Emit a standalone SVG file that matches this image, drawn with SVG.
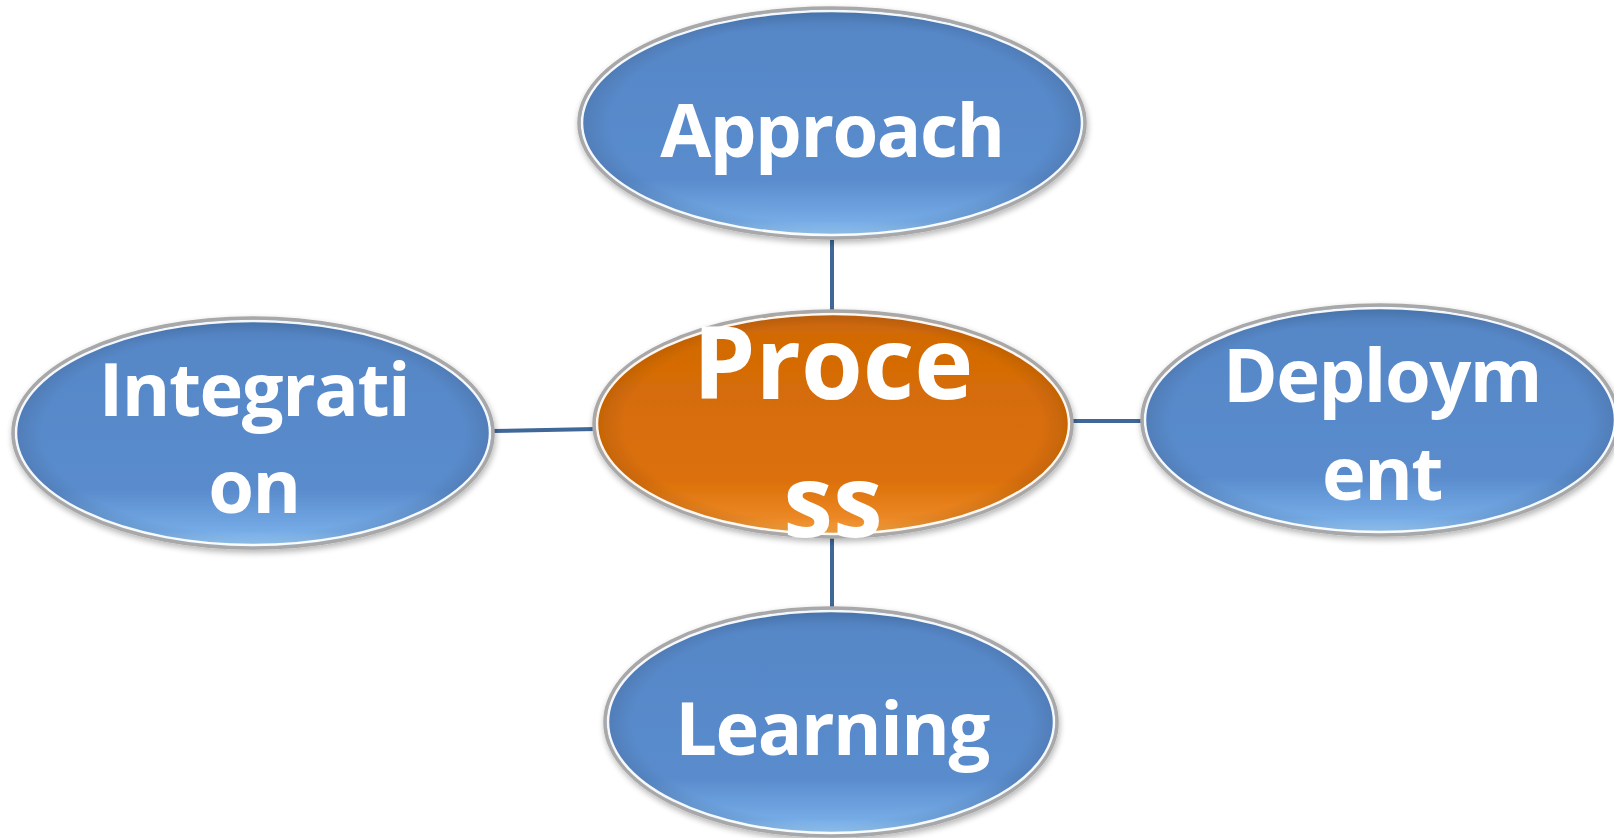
<svg xmlns="http://www.w3.org/2000/svg" width="1614" height="838" viewBox="0 0 1614 838">
<style>
.edge{stroke:#3f6797;stroke-width:4;fill:none}
.rim{fill:none;stroke:#a8a8a8;stroke-width:3.5}
.hl{fill:none;stroke:#ffffff;stroke-width:2.5;opacity:0.95}
.blue{fill:url(#gBlue)}
.orange{fill:url(#gOrange)}
.lbl{font-family:"Open Sans","Liberation Sans",sans-serif;font-weight:700;fill:#ffffff;text-anchor:middle}
.s{font-size:74px;letter-spacing:-1.5px}
.b{font-size:100px}
</style>
<defs>
<linearGradient id="gBlue" x1="0" y1="0" x2="0" y2="1">
<stop offset="0" stop-color="#4d7bb6"/>
<stop offset="0.1" stop-color="#5687c7"/>
<stop offset="0.75" stop-color="#5a8ccd"/>
<stop offset="0.93" stop-color="#75abe6"/>
<stop offset="1" stop-color="#9fd0fb"/>
</linearGradient>
<linearGradient id="gOrange" x1="0" y1="0" x2="0" y2="1">
<stop offset="0" stop-color="#c46410"/>
<stop offset="0.1" stop-color="#d26a06"/>
<stop offset="0.75" stop-color="#db7008"/>
<stop offset="0.92" stop-color="#ec8824"/>
<stop offset="1" stop-color="#fbab4a"/>
</linearGradient>
<radialGradient id="gEdge" cx="0.5" cy="0.5" r="0.5">
<stop offset="0.88" stop-color="#000" stop-opacity="0"/>
<stop offset="1" stop-color="#000" stop-opacity="0.1"/>
</radialGradient>
<filter id="sh" x="-10%" y="-10%" width="120%" height="130%">
<feGaussianBlur in="SourceAlpha" stdDeviation="3"/>
<feOffset dx="1" dy="3"/>
<feComponentTransfer><feFuncA type="linear" slope="0.3"/></feComponentTransfer>
<feMerge><feMergeNode/><feMergeNode in="SourceGraphic"/></feMerge>
</filter>
</defs>
<rect width="1614" height="838" fill="#ffffff"/>
<g id="connectors">
<line class="edge" x1="832" y1="240" x2="832" y2="312"/>
<line class="edge" x1="832" y1="536" x2="832" y2="608"/>
<line class="edge" x1="492" y1="431" x2="596" y2="429"/>
<line class="edge" x1="1069" y1="421" x2="1143" y2="421"/>
</g>
<g id="node-approach" filter="url(#sh)">
<ellipse class="blue" cx="832" cy="123" rx="252" ry="114"/>
<ellipse cx="832" cy="123" rx="252" ry="114" fill="url(#gEdge)"/>
<ellipse class="rim" cx="832" cy="123" rx="253" ry="115"/>
<ellipse class="hl" cx="832" cy="123" rx="250" ry="112"/>
<text class="lbl s" x="832" y="157">Approach</text>
</g>
<g id="node-process" filter="url(#sh)">
<ellipse class="orange" cx="833" cy="424" rx="238" ry="112"/>
<ellipse cx="833" cy="424" rx="238" ry="112" fill="url(#gEdge)"/>
<ellipse class="rim" cx="833" cy="424" rx="239" ry="113"/>
<ellipse class="hl" cx="833" cy="424" rx="236" ry="110"/>
<text class="lbl b" x="833" y="399">Proce</text>
<text class="lbl b" x="833" y="537">ss</text>
</g>
<g id="node-integration" filter="url(#sh)">
<ellipse class="blue" cx="253" cy="433" rx="239" ry="114"/>
<ellipse cx="253" cy="433" rx="239" ry="114" fill="url(#gEdge)"/>
<ellipse class="rim" cx="253" cy="433" rx="240" ry="115"/>
<ellipse class="hl" cx="253" cy="433" rx="237" ry="112"/>
<text class="lbl s" x="254" y="416">Integrati</text>
<text class="lbl s" x="254" y="513">on</text>
</g>
<g id="node-deployment" filter="url(#sh)">
<ellipse class="blue" cx="1380" cy="420" rx="237" ry="114"/>
<ellipse cx="1380" cy="420" rx="237" ry="114" fill="url(#gEdge)"/>
<ellipse class="rim" cx="1380" cy="420" rx="238" ry="115"/>
<ellipse class="hl" cx="1380" cy="420" rx="235" ry="112"/>
<text class="lbl s" x="1382" y="402">Deploym</text>
<text class="lbl s" x="1382" y="500">ent</text>
</g>
<g id="node-learning" filter="url(#sh)">
<ellipse class="blue" cx="831" cy="722" rx="225" ry="113"/>
<ellipse cx="831" cy="722" rx="225" ry="113" fill="url(#gEdge)"/>
<ellipse class="rim" cx="831" cy="722" rx="226" ry="114"/>
<ellipse class="hl" cx="831" cy="722" rx="223" ry="111"/>
<text class="lbl s" x="832" y="755">Learning</text>
</g>
</svg>
